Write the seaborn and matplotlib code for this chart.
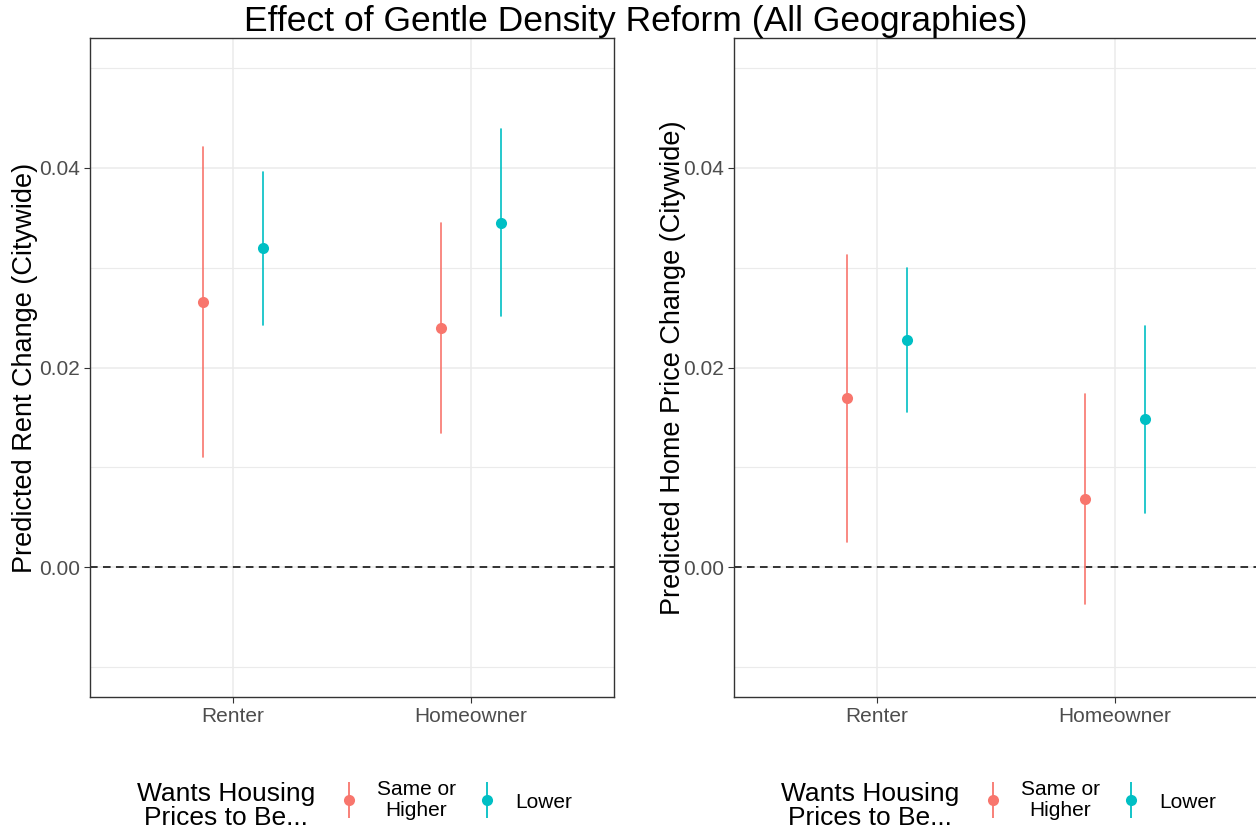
import numpy as np
import pandas as pd
import seaborn as sns
import matplotlib
matplotlib.use("Agg")
import matplotlib.pyplot as plt
from matplotlib.lines import Line2D
from matplotlib.legend_handler import HandlerTuple
from matplotlib.ticker import FixedLocator

# ---------------- data ----------------
tenures = ["Renter", "Homeowner"]
hue_levels = ["Same or\nHigher", "Lower"]

rent_same_est = [0.0266, 0.0240]
rent_same_lo = [0.0110, 0.0134]
rent_same_hi = [0.0421, 0.0345]
rent_lower_est = [0.0320, 0.0345]
rent_lower_lo = [0.0243, 0.0252]
rent_lower_hi = [0.0396, 0.0439]

price_same_est = [0.0169, 0.0068]
price_same_lo = [0.0025, -0.0037]
price_same_hi = [0.0313, 0.0173]
price_lower_est = [0.0228, 0.0148]
price_lower_lo = [0.0155, 0.0054]
price_lower_hi = [0.0300, 0.0242]

title = "Effect of Gentle Density Reform (All Geographies)"
ylabels = ["Predicted Rent Change (Citywide)", "Predicted Home Price Change (Citywide)"]
legend_title = "Wants Housing\nPrices to Be..."
colors = ["#F8766D", "#00BFC4"]


def long_df(same, lower):
    rows = []
    for lvl, (est, lo, hi) in zip(hue_levels, [same, lower]):
        for i, t in enumerate(tenures):
            for v in (lo[i], est[i], hi[i]):
                rows.append({"tenure": t, "group": lvl, "value": v})
    return pd.DataFrame(rows)


df_rent = long_df((rent_same_est, rent_same_lo, rent_same_hi),
                  (rent_lower_est, rent_lower_lo, rent_lower_hi))
df_price = long_df((price_same_est, price_same_lo, price_same_hi),
                   (price_lower_est, price_lower_lo, price_lower_hi))

# ---------------- plot ----------------
sns.set_theme(style="white")
plt.rcParams["font.family"] = ["Liberation Sans", "DejaVu Sans"]
plt.rcParams["text.color"] = "black"

W, H = 1256, 832
fig = plt.figure(figsize=(W / 100, H / 100), dpi=100)

panel_left = [90, 734]
panel_w = 524
top, bottom = 38, 697

axes = []
for px in panel_left:
    ax = fig.add_axes([px / W, 1 - bottom / H, panel_w / W, (bottom - top) / H])
    axes.append(ax)

for ax, df, ylab, lx in zip(axes, [df_rent, df_price], ylabels, [-0.099, -0.092]):
    ax.axhline(0, color="black", linestyle=(0, (5, 3.5)), linewidth=1.1, zorder=1.5)
    sns.pointplot(data=df, x="tenure", y="value", hue="group",
                  order=tenures, hue_order=hue_levels, palette=colors,
                  estimator="median", errorbar=("pi", 100),
                  dodge=0.25, linestyle="none", markers="o",
                  markersize=8, markeredgewidth=0, err_kws={"linewidth": 1.2},
                  legend=False, ax=ax)
    ax.set_xlim(-0.6, 1.6)
    ax.set_ylim(-0.01303, 0.05303)
    ax.set_yticks([0.0, 0.02, 0.04])
    ax.set_yticklabels(["0.00", "0.02", "0.04"])
    ax.yaxis.set_minor_locator(FixedLocator([-0.01, 0.01, 0.03, 0.05]))
    ax.grid(True, which="major", color="#EBEBEB", linewidth=1.1, zorder=0)
    ax.grid(True, which="minor", axis="y", color="#EBEBEB", linewidth=0.8, zorder=0)
    ax.set_axisbelow(True)
    ax.set_xlabel("")
    ax.set_ylabel(ylab, fontsize=19.5, color="black")
    ax.yaxis.set_label_coords(lx, 0.5)
    ax.tick_params(axis="both", which="major", labelsize=15, labelcolor="#4D4D4D",
                   length=4, width=0.8, color="#333333", direction="out",
                   left=True, bottom=True, pad=3)
    ax.tick_params(axis="y", which="minor", length=0)
    for s in ax.spines.values():
        s.set_color("#333333")
        s.set_linewidth(1.0)

fig.text(636 / W, 1 - 21 / H, title, ha="center", va="center", fontsize=25.5,
         color="black")

# legends
for ax, tx, lx in zip(axes, [226, 870], [331, 975]):
    fig.text(tx / W, 1 - 806 / H, legend_title, ha="center", va="center",
             fontsize=19, linespacing=1.0, color="black")
    handles = []
    for c in colors:
        h = (Line2D([], [], marker="|", markersize=26, markeredgewidth=1.3,
                    color=c, linestyle="none"),
             Line2D([], [], marker="o", markersize=8, markeredgewidth=0,
                    color=c, linestyle="none"))
        handles.append(h)
    leg = fig.legend(handles, hue_levels, handler_map={tuple: HandlerTuple(ndivide=1)},
                     loc="center left", bbox_to_anchor=(lx / W, 1 - 800 / H),
                     ncol=2, frameon=False, fontsize=15, handlelength=1.7,
                     handletextpad=0.5, columnspacing=0.65, borderaxespad=0,
                     borderpad=0)
    for t in leg.get_texts():
        t.set_multialignment("center")
        t.set_linespacing(1.15)

fig.savefig("out.png", dpi=100)
